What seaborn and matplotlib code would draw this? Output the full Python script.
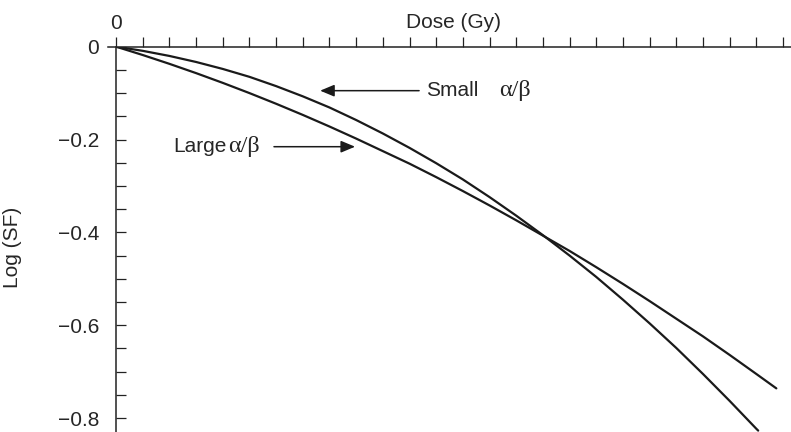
import numpy as np
import pandas as pd
import seaborn as sns
import matplotlib
matplotlib.use("Agg")
import matplotlib.pyplot as plt

# Survival curves (log10 SF) read at whole-Gy doses
dose_large = [0, 1, 2, 3, 4, 5, 6, 7, 8, 9, 10, 11, 12, 13, 14, 15, 16,
              17, 18, 19, 20, 21, 22, 23, 24, 24.75]
logsf_large = [0, -0.018, -0.037, -0.057, -0.078, -0.100, -0.123, -0.147,
               -0.172, -0.198, -0.225, -0.252, -0.281, -0.311, -0.342,
               -0.374, -0.407, -0.440, -0.475, -0.511, -0.548, -0.586,
               -0.624, -0.664, -0.705, -0.736]

dose_small = [0, 1, 2, 3, 4, 5, 6, 7, 8, 9, 10, 11, 12, 13, 14, 15, 16,
              17, 18, 19, 20, 21, 22, 23, 24, 24.07]
logsf_small = [0, -0.009, -0.020, -0.033, -0.048, -0.065, -0.085, -0.107,
               -0.131, -0.158, -0.187, -0.218, -0.251, -0.286, -0.324,
               -0.364, -0.406, -0.450, -0.496, -0.545, -0.596, -0.649,
               -0.705, -0.763, -0.823, -0.827]

y_ticks = [0, -0.2, -0.4, -0.6, -0.8]
y_labels = ["0", "\u22120.2", "\u22120.4", "\u22120.6", "\u22120.8"]

df = pd.concat([
    pd.DataFrame({"dose": dose_large, "logsf": logsf_large, "curve": "large"}),
    pd.DataFrame({"dose": dose_small, "logsf": logsf_small, "curve": "small"}),
])

sns.set_style("white")
plt.rcParams["font.family"] = ["Liberation Sans", "DejaVu Sans"]

fig = plt.figure(figsize=(7.91, 4.32), dpi=100)
ax = fig.add_axes([0.1467, 0.0, 0.8533, 0.892])

sns.lineplot(data=df, x="dose", y="logsf", hue="curve", units="curve",
             estimator=None, sort=False, palette=["#1a1a1a", "#1a1a1a"],
             linewidth=1.6, legend=False, ax=ax)

ax.set_xlim(0, 25.3)
ax.set_ylim(-0.83, 0)

# axes: x on top, y on the left
for side in ("right", "bottom"):
    ax.spines[side].set_visible(False)
for side in ("top", "left"):
    ax.spines[side].set_linewidth(1.1)
    ax.spines[side].set_color("#222222")
ax.spines["top"].set_bounds(-0.3, 25.3)

ax.xaxis.tick_top()
ax.xaxis.set_label_position("top")
ax.set_xticks(range(26))
ax.set_xticklabels(["0"] + [""] * 25)
ax.tick_params(axis="x", top=True, bottom=False, direction="out",
               length=7, width=0.9, color="#222222", labelsize=15, pad=3)
ax.set_xlabel("Dose (Gy)", fontsize=15, labelpad=-10.5)

ax.set_yticks(y_ticks)
ax.set_yticklabels(y_labels)
ax.set_yticks(np.arange(-0.8, 0.0, 0.05), minor=True)
ax.tick_params(axis="y", which="both", left=True, right=False,
               direction="in", length=7, width=0.9, color="#222222")
ax.tick_params(axis="y", which="major", labelsize=15, pad=12)
ax.set_ylabel("Log (SF)", fontsize=15)
ax.yaxis.set_label_coords(-0.139, 0.48)

arrow = dict(arrowstyle="-|>,head_length=0.86,head_width=0.36",
             color="#1a1a1a", lw=1.1, shrinkA=0, shrinkB=0,
             mutation_scale=10)
greek = dict(fontsize=17.5, va="center", ha="left",
             family=["Liberation Serif", "DejaVu Serif"])

# Small alpha/beta label and arrow
ax.annotate("", xy=(7.65, -0.0948), xytext=(11.36, -0.0948),
            arrowprops=arrow)
ax.text(11.62, -0.0948, "Small", fontsize=15, va="center", ha="left")
ax.text(14.36, -0.0948, "\u03b1/\u03b2", **greek)

# Large alpha/beta label and arrow
ax.annotate("", xy=(8.96, -0.2155), xytext=(5.92, -0.2155),
            arrowprops=arrow)
ax.text(2.15, -0.2155, "Large", fontsize=15, va="center", ha="left")
ax.text(4.20, -0.2155, "\u03b1/\u03b2", **greek)

fig.savefig("out.png", dpi=100)
